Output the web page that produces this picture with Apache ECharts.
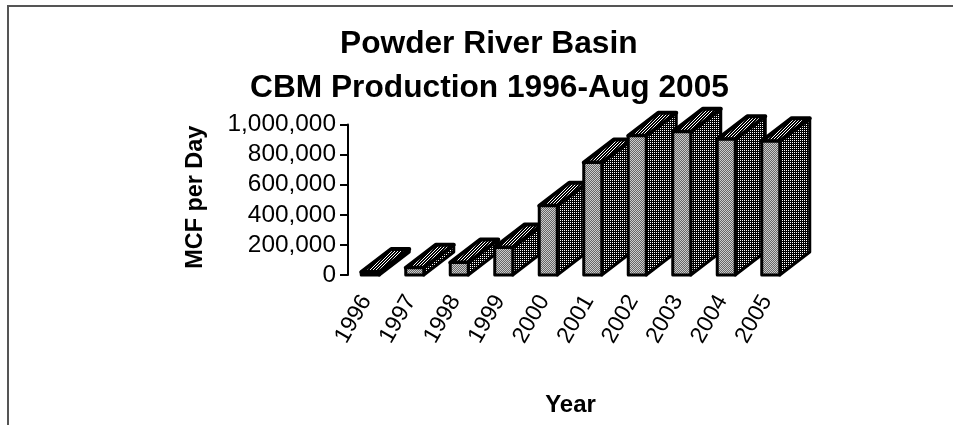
<!DOCTYPE html>
<html>
<head>
<meta charset="utf-8">
<style>
html, body { margin: 0; padding: 0; background: #fff; }
#chart { width: 953px; height: 425px; }
</style>
<script src="https://cdn.jsdelivr.net/npm/echarts@6/dist/echarts.min.js"></script>
</head>
<body>
<div id="chart"></div>
<script>
var years = ['1996', '1997', '1998', '1999', '2000', '2001', '2002', '2003', '2004', '2005'];
var mcfPerDay = [20000, 48000, 83000, 183000, 460000, 747000, 925000, 951000, 902000, 889000];
var yTicks = { min: 0, max: 1000000, interval: 200000 };

// small repeating tile, dots is a list of [x, y] light pixels
function ditherTile(bg, dot, step, dots) {
	var c = document.createElement('canvas');
	c.width = step;
	c.height = step;
	var ctx = c.getContext('2d');
	ctx.fillStyle = bg;
	ctx.fillRect(0, 0, step, step);
	ctx.fillStyle = dot;
	dots.forEach(function(p) {
		ctx.fillRect(p[0], p[1], 1, 1);
	});
	return c;
}

var frontFill = { image: ditherTile('#666666', '#cccccc', 2, [[0, 0], [1, 1]]), repeat: 'repeat' };
var sideFill = { image: ditherTile('#000000', '#ffffff', 2, [[0, 0]]), repeat: 'repeat' };
var topFill = { image: ditherTile('#000000', '#ffffff', 3, [[0, 0], [1, 2], [2, 1]]), repeat: 'repeat' };

var depthX = 30, depthY = 23;

function renderBar(params, api) {
	var base = api.coord([api.value(0), 0]);
	var head = api.coord([api.value(0), api.value(1)]);
	var w = 18;
	var x0 = base[0] - w / 2, x1 = x0 + w;
	var yb = base[1], yt = head[1];
	var line = { stroke: '#000', lineWidth: 3, lineJoin: 'round' };
	return {
		type: 'group',
		children: [
			{
				type: 'polygon',
				shape: { points: [[x1, yb], [x1 + depthX, yb - depthY], [x1 + depthX, yt - depthY], [x1, yt]] },
				style: Object.assign({ fill: sideFill }, line)
			},
			{
				type: 'polygon',
				shape: { points: [[x0, yt], [x0 + depthX, yt - depthY], [x1 + depthX, yt - depthY], [x1, yt]] },
				style: Object.assign({ fill: topFill }, line, { lineWidth: 4 })
			},
			{
				type: 'rect',
				shape: { x: x0, y: yt, width: w, height: yb - yt },
				style: Object.assign({ fill: frontFill }, line)
			}
		]
	};
}

var myChart = echarts.init(document.getElementById('chart'), null, { renderer: 'canvas' });
var fontName = '"Liberation Sans", Arial, sans-serif';
var option = {
	animation: false,
	backgroundColor: '#fff',
	title: [ {
		text: 'Powder River Basin',
		left: 340,
		top: 28,
		padding: 0,
		textStyle: { fontFamily: fontName, fontSize: 31.7, fontWeight: 'bold', color: '#000' }
	}, {
		text: 'CBM Production 1996-Aug 2005',
		left: 250,
		top: 72,
		padding: 0,
		textStyle: { fontFamily: fontName, fontSize: 31.7, fontWeight: 'bold', color: '#000' }
	} ],
	grid: { left: 348, top: 124.5, width: 445, height: 150.5 },
	xAxis: {
		type: 'category',
		data: years,
		name: 'Year',
		nameLocation: 'middle',
		nameGap: 118,
		nameTextStyle: { fontFamily: fontName, fontSize: 24, fontWeight: 'bold', color: '#000' },
		axisLine: { show: false },
		axisTick: { show: false },
		axisLabel: { interval: 0, rotate: 60, margin: 15, padding: [0, 8, 0, 0], fontFamily: fontName, fontSize: 23, color: '#000' }
	},
	yAxis: {
		type: 'value',
		min: yTicks.min,
		max: yTicks.max,
		interval: yTicks.interval,
		name: 'MCF per Day',
		nameLocation: 'middle',
		nameGap: 141,
		nameTextStyle: { fontFamily: fontName, fontSize: 23.4, fontWeight: 'bold', color: '#000', padding: [0, 0, 0, 5] },
		axisLine: { show: true, lineStyle: { color: '#000', width: 2 } },
		axisTick: { show: true, length: 8, lineStyle: { color: '#000', width: 2 } },
		axisLabel: {
			margin: 12,
			fontFamily: fontName,
			fontSize: 24.4,
			color: '#000',
			formatter: function(val) {
				return echarts.format.addCommas(val);
			}
		},
		splitLine: { show: false }
	},
	series: [ {
		type: 'custom',
		renderItem: renderBar,
		encode: { x: 0, y: 1 },
		data: years.map(function(y, i) {
			return [i, mcfPerDay[i]];
		})
	} ],
	graphic: [ {
		type: 'line',
		shape: { x1: 7, y1: 6, x2: 953, y2: 6 },
		style: { stroke: '#555', lineWidth: 2 }
	}, {
		type: 'line',
		shape: { x1: 8, y1: 6, x2: 8, y2: 425 },
		style: { stroke: '#555', lineWidth: 2 }
	} ]
};
myChart.setOption(option);
</script>
</body>
</html>
